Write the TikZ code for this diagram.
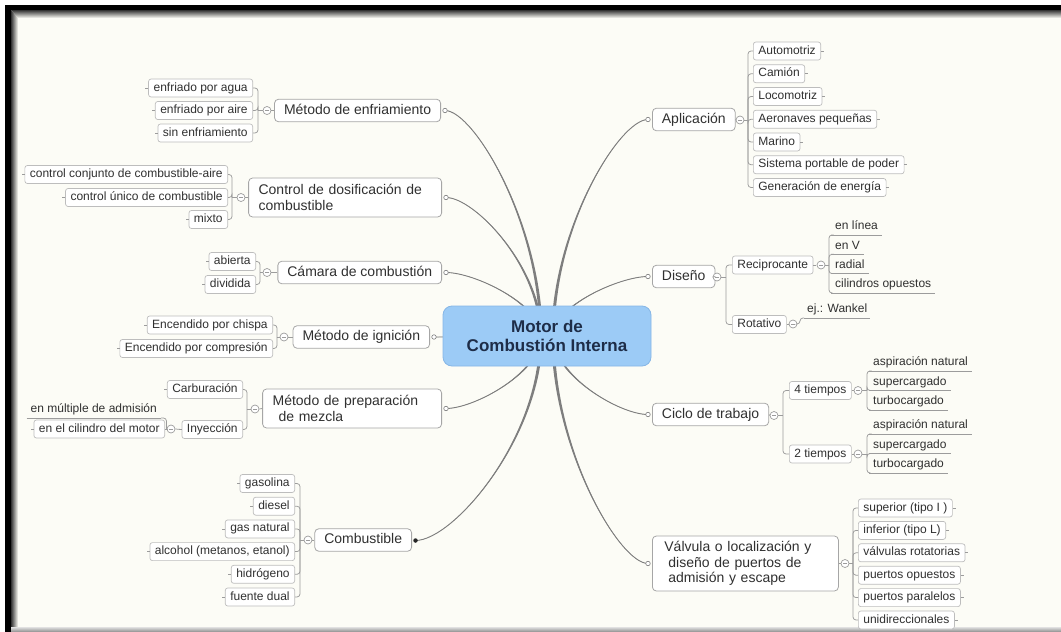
\documentclass[tikz,border=0pt]{standalone}
\usepackage{fontspec}
\setmainfont{Liberation Sans}
\usetikzlibrary{calc}
\pgfdeclarelayer{back}
\pgfdeclarelayer{bg}
\pgfsetlayers{back,bg,main}

\definecolor{paper}{HTML}{FCFCF6}
\definecolor{ink}{HTML}{303030}
\definecolor{topicline}{HTML}{A6A6A6}
\definecolor{leafline}{HTML}{BDBDBD}
\definecolor{subline}{HTML}{9C9C9C}
\definecolor{limbcol}{HTML}{7E7E7E}
\definecolor{centerfill}{HTML}{9CCBF6}
\definecolor{centerline}{HTML}{86B6E6}
\definecolor{centerink}{HTML}{1E2D48}

% tapered main branch from a hub point to a port
\newcommand\limb[2]{%
  \fill[limbcol] let \p1=(#1), \p2=(#2) in
    ({\x1+1.7pt},\y1) .. controls ({\x1+1pt},{0.5*\y1+0.5*\y2}) and ({0.3*\x1+0.7*\x2},\y2) .. (\x2,\y2)
    .. controls ({0.3*\x1+0.7*\x2},\y2) and ({\x1-1pt},{0.5*\y1+0.5*\y2}) .. ({\x1-1.7pt},\y1) -- cycle;
  \draw[limbcol, line width=0.9pt] let \p1=(#1), \p2=(#2) in
    (\x1,\y1) .. controls (\x1,{0.5*\y1+0.5*\y2}) and ({0.3*\x1+0.7*\x2},\y2) .. (\x2,\y2);
}

\begin{document}
\begin{tikzpicture}[x=1pt,y=-1pt,
  sub/.style={draw=subline, line width=0.75pt, rounded corners=3pt},
  topic/.style={draw=topicline, fill=white, rounded corners=4pt, line width=0.8pt,
    inner xsep=9.5pt, inner ysep=4.5pt, font=\fontsize{14}{15.5}\selectfont, text=ink},
  oneline/.style={text height=10.5pt, text depth=3pt},
  leaf/.style={draw=leafline, fill=white, rounded corners=2.5pt, line width=0.7pt,
    inner xsep=5pt, inner ysep=3pt, text height=9pt, text depth=3pt,
    font=\fontsize{12}{14}\selectfont, text=ink},
  leafL/.style={leaf, anchor=east,
    append after command={(\tikzlastnode.west) edge[sub] ([xshift=-3pt]\tikzlastnode.west)}},
  leafR/.style={leaf, anchor=west,
    append after command={(\tikzlastnode.east) edge[sub] ([xshift=3pt]\tikzlastnode.east)}},
  uline/.style={inner xsep=4pt, inner ysep=2pt, text height=9pt, text depth=3pt,
    font=\fontsize{12}{14}\selectfont, text=ink,
    append after command={(\tikzlastnode.south west) edge[sub] (\tikzlastnode.south east)}},
  minus/.style={circle, draw=subline, fill=white, line width=0.7pt, minimum size=8pt, inner sep=0pt,
    path picture={\draw[subline, line width=0.8pt] ([xshift=2pt]path picture bounding box.center) -- ([xshift=-2pt]path picture bounding box.center);}},
  port/.style={circle, draw=limbcol, fill=white, line width=0.6pt, minimum size=4.5pt, inner sep=0pt},
]
\useasboundingbox (0,0) rectangle (1061,632);

% ---------- window frame ----------
\begin{pgfonlayer}{back}
  \fill[white] (0,0) rectangle (1061,632);
  \fill[paper] (5,5) rectangle (1061,628);
  \fill[black] (5,5) rectangle (1061,10);
  \fill[black] (5,5) rectangle (11,632);
  \begin{scope}
    \clip (11,10) -- (1061,10) -- (1061,18) -- (18,18) -- cycle;
    \shade[top color=black!80, bottom color=paper] (11,10) rectangle (1061,18);
  \end{scope}
  \begin{scope}
    \clip (11,10) -- (18,18) -- (18,632) -- (11,632) -- cycle;
    \shade[left color=black!80, right color=paper] (11,10) rectangle (18,632);
  \end{scope}
  \shade[top color=black!12, bottom color=black!45] (11,627) rectangle (1061,632);
\end{pgfonlayer}

% ---------- central topic ----------
\node[draw=centerline, fill=centerfill, rounded corners=9pt, line width=0.8pt,
  minimum width=208pt, minimum height=60pt, align=center,
  font=\bfseries\fontsize{17}{18.5}\selectfont, text=centerink] (core) at (547,336)
  {Motor de\\Combustión Interna};
\coordinate (hubL) at (541,336);
\coordinate (hubR) at (553,336);

% ---------- left main topics ----------
\node[topic, oneline, anchor=east] (enf) at (441,110.5) {Método de enfriamiento};
\node[topic, anchor=east, align=left, text width=173pt, inner xsep=10pt, inner ysep=4pt, minimum height=39pt]
  (dos) at (442,197.5) {Control de dosificación de\\combustible};
\node[topic, oneline, anchor=east] (cam) at (442,272.5) {Cámara de combustión};
\node[topic, oneline, anchor=east] (ign) at (430,337) {Método de ignición};
\node[topic, anchor=east, align=left, text width=159pt, inner xsep=10pt, inner ysep=4pt, minimum height=39pt]
  (mez) at (442,408.5) {Método de preparación\\\hspace*{6pt}de mezcla};
\node[topic, oneline, anchor=east] (comb) at (412,540) {Combustible};

\node[port] (pEnf) at (445,110.5) {};
\node[port] (pDos) at (446,197.5) {};
\node[port] (pCam) at (446,272.5) {};
\node[port] (pIgn) at (434,337) {};
\node[port] (pMez) at (446,408.5) {};
\node[circle, fill=black!85, minimum size=4.5pt, inner sep=0pt] (dComb) at (415.5,540.5) {};

% ---------- right main topics ----------
\node[topic, oneline, anchor=west] (apl) at (652,119.5) {Aplicación};
\node[topic, oneline, anchor=west] (dis) at (652,276.5) {Diseño};
\node[topic, oneline, anchor=west] (cic) at (652,414.5) {Ciclo de trabajo};
\node[topic, anchor=west, align=left, text width=162pt, inner xsep=12pt, inner ysep=4pt, minimum height=55pt]
  (val) at (652,563.5) {Válvula o localización y\\\hspace*{4pt}diseño de puertos de\\\hspace*{4pt}admisión y escape};

\node[port] (pApl) at (648,119.5) {};
\node[port] (pDis) at (648,276.5) {};
\node[port] (pCic) at (648,414.5) {};
\node[port] (pVal) at (648,563.5) {};

% ---------- main branches ----------
\begin{pgfonlayer}{bg}
  \limb{hubL}{pEnf}
  \limb{hubL}{pDos}
  \limb{hubL}{pCam}
  \limb{hubL}{pIgn}
  \limb{hubL}{pMez}
  \limb{hubL}{dComb}
  \limb{hubR}{pApl}
  \limb{hubR}{pDis}
  \limb{hubR}{pCic}
  \limb{hubR}{pVal}
\end{pgfonlayer}

% ---------- Método de enfriamiento ----------
\node[minus] (mEnf) at (267,110.5) {};
\coordinate (tEnf) at (258,110.5);
\node[leafL] (e1) at (253,88) {enfriado por agua};
\node[leafL] (e2) at (253,110.5) {enfriado por aire};
\node[leafL] (e3) at (253,133) {sin enfriamiento};
\draw[sub] (enf.west) -- (mEnf.east);
\draw[sub] (mEnf.west) -- (tEnf);
\foreach \c in {e1,e2,e3} \draw[sub] (tEnf) |- (\c.east);

% ---------- Control de dosificación ----------
\node[minus] (mDos) at (241,197.5) {};
\coordinate (tDos) at (232,197.5);
\node[leafL] (d1) at (228,174.5) {control conjunto de combustible-aire};
\node[leafL] (d2) at (228,197.5) {control único de combustible};
\node[leafL] (d3) at (228,219.5) {mixto};
\draw[sub] (dos.west) -- (mDos.east);
\draw[sub] (mDos.west) -- (tDos);
\foreach \c in {d1,d2,d3} \draw[sub] (tDos) |- (\c.east);

% ---------- Cámara de combustión ----------
\node[minus] (mCam) at (267,272.5) {};
\coordinate (tCam) at (260,272.5);
\node[leafL] (c1) at (256,261.5) {abierta};
\node[leafL] (c2) at (256,284.5) {dividida};
\draw[sub] (cam.west) -- (mCam.east);
\draw[sub] (mCam.west) -- (tCam);
\foreach \c in {c1,c2} \draw[sub] (tCam) |- (\c.east);

% ---------- Método de ignición ----------
\node[minus] (mIgn) at (284,337) {};
\coordinate (tIgn) at (277,337);
\node[leafL] (i1) at (273,325) {Encendido por chispa};
\node[leafL] (i2) at (273,348.5) {Encendido por compresión};
\draw[sub] (ign.west) -- (mIgn.east);
\draw[sub] (mIgn.west) -- (tIgn);
\foreach \c in {i1,i2} \draw[sub] (tIgn) |- (\c.east);

% ---------- Método de preparación de mezcla ----------
\node[minus] (mMez) at (255,409) {};
\coordinate (tMez) at (247,409);
\node[leafL] (z1) at (243,389.5) {Carburación};
\node[leafL] (z2) at (243,429.5) {Inyección};
\draw[sub] (mez.west) -- (mMez.east);
\draw[sub] (mMez.west) -- (tMez);
\foreach \c in {z1,z2} \draw[sub] (tMez) |- (\c.east);

\node[minus] (mIny) at (171,429) {};
\coordinate (tIny) at (166.5,429);
\node[uline, anchor=south east] (y1) at (161,418) {en múltiple de admisión};
\node[leafL] (y2) at (165,429) {en el cilindro del motor};
\draw[sub] (z2.west) -- (mIny.east);
\draw[sub] (mIny.west) -- (tIny);
\draw[sub] (tIny) |- (y1.south east);
\draw[sub] (tIny) -- (y2.east);

% ---------- Combustible ----------
\node[minus] (mComb) at (308,540) {};
\coordinate (tComb) at (300,540);
\node[leafL] (f1) at (295,483.5) {gasolina};
\node[leafL] (f2) at (295,506.2) {diesel};
\node[leafL] (f3) at (295,528.9) {gas natural};
\node[leafL] (f4) at (295,551.6) {alcohol (metanos, etanol)};
\node[leafL] (f5) at (295,574.3) {hidrógeno};
\node[leafL] (f6) at (295,597) {fuente dual};
\draw[sub] (comb.west) -- (mComb.east);
\draw[sub] (mComb.west) -- (tComb);
\foreach \c in {f1,f2,f3,f4,f5,f6} \draw[sub] (tComb) |- (\c.east);

% ---------- Aplicación ----------
\node[minus] (mApl) at (740,120) {};
\coordinate (tApl) at (748,120);
\node[leafR] (a1) at (753,51) {Automotriz};
\node[leafR] (a2) at (753,73.75) {Camión};
\node[leafR] (a3) at (753,96.5) {Locomotriz};
\node[leafR] (a4) at (753,119.25) {Aeronaves pequeñas};
\node[leafR] (a5) at (753,142) {Marino};
\node[leafR] (a6) at (753,164.75) {Sistema portable de poder};
\node[leafR] (a7) at (753,187.5) {Generación de energía};
\draw[sub] (apl.east) -- (mApl.west);
\draw[sub] (mApl.east) -- (tApl);
\foreach \c in {a1,a2,a3,a4,a5,a6,a7} \draw[sub] (tApl) |- (\c.west);

% ---------- Diseño ----------
\node[minus] (mDis) at (717,277) {};
\coordinate (tDis) at (726,277);
\node[leafR] (r1) at (732,265) {Reciprocante};
\node[leafR] (r2) at (732,324.5) {Rotativo};
\draw[sub] (dis.east) -- (mDis.west);
\draw[sub] (mDis.east) -- (tDis);
\foreach \c in {r1,r2} \draw[sub] (tDis) |- (\c.west);

\node[minus] (mRec) at (821,265) {};
\coordinate (tRec) at (829,265);
\node[uline, anchor=south west] (q1) at (831,235) {en línea};
\node[uline, anchor=south west] (q2) at (831,254.3) {en V};
\node[uline, anchor=south west] (q3) at (831,273.6) {radial};
\node[uline, anchor=south west] (q4) at (831,293) {cilindros opuestos};
\draw[sub] (mRec.east) -- (tRec);
\foreach \c in {q1,q2,q3,q4} \draw[sub] (tRec) |- (\c.south west);

\node[minus] (mRot) at (793,324) {};
\coordinate (tRot) at (800,324);
\node[uline, anchor=south west, inner xsep=3pt] (w1) at (804,318) {ej.: Wankel};
\draw[sub] (mRot.east) -- (tRot) |- (w1.south west);

% ---------- Ciclo de trabajo ----------
\node[minus] (mCic) at (774,415.5) {};
\coordinate (tCic) at (783,415.5);
\node[leafR] (k1) at (789,390.5) {4 tiempos};
\node[leafR] (k2) at (789,454) {2 tiempos};
\draw[sub] (cic.east) -- (mCic.west);
\draw[sub] (mCic.east) -- (tCic);
\foreach \c in {k1,k2} \draw[sub] (tCic) |- (\c.west);

\node[minus] (m4) at (858,390.5) {};
\coordinate (t4) at (867,390.5);
\node[uline, anchor=south west] (u1) at (869,371) {aspiración natural};
\node[uline, anchor=south west] (u2) at (869,390.5) {supercargado};
\node[uline, anchor=south west] (u3) at (869,410) {turbocargado};
\draw[sub] (m4.east) -- (t4);
\foreach \c in {u1,u2,u3} \draw[sub] (t4) |- (\c.south west);

\node[minus] (m2) at (858,454) {};
\coordinate (t2) at (867,454);
\node[uline, anchor=south west] (v1) at (869,434) {aspiración natural};
\node[uline, anchor=south west] (v2) at (869,453.5) {supercargado};
\node[uline, anchor=south west] (v3) at (869,473) {turbocargado};
\draw[sub] (m2.east) -- (t2);
\foreach \c in {v1,v2,v3} \draw[sub] (t2) |- (\c.south west);

% ---------- Válvula ----------
\node[minus] (mVal) at (845,563.5) {};
\coordinate (tVal) at (853,563.5);
\node[leafR] (s1) at (858,508) {superior (tipo I )};
\node[leafR] (s2) at (858,530.4) {inferior (tipo L)};
\node[leafR] (s3) at (858,552.8) {válvulas rotatorias};
\node[leafR] (s4) at (858,575.2) {puertos opuestos};
\node[leafR] (s5) at (858,597.6) {puertos paralelos};
\node[leafR] (s6) at (858,620) {unidireccionales};
\draw[sub] (val.east) -- (mVal.west);
\draw[sub] (mVal.east) -- (tVal);
\foreach \c in {s1,s2,s3,s4,s5,s6} \draw[sub] (tVal) |- (\c.west);
\end{tikzpicture}
\end{document}
